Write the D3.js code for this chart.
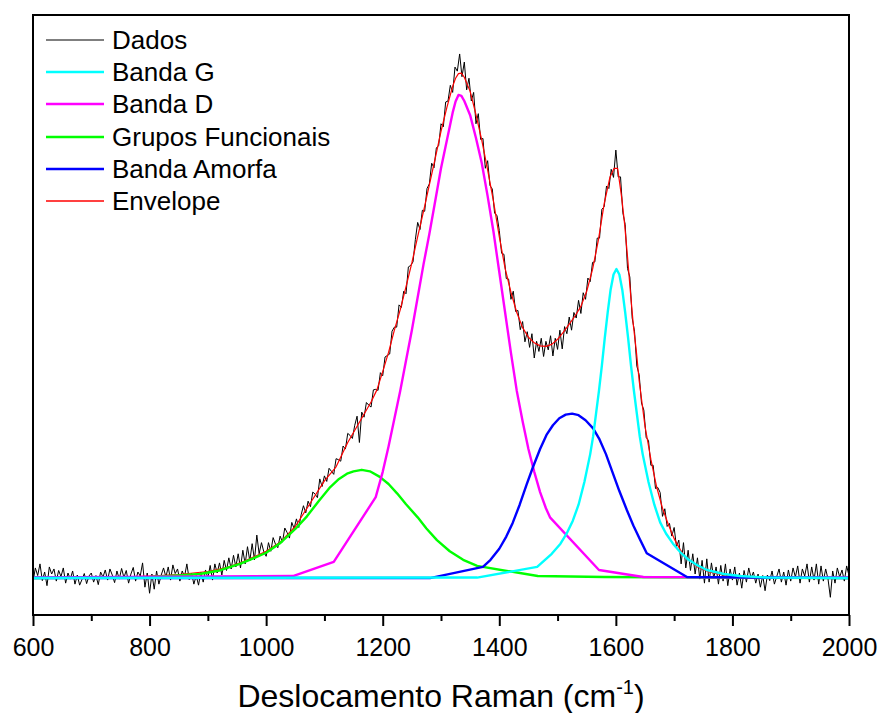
<!DOCTYPE html>
<html><head><meta charset="utf-8">
<script src="https://cdn.jsdelivr.net/npm/d3@7"></script>
<style>body{margin:0;background:#fff} svg{display:block} text{font-family:"Liberation Sans",Arial,sans-serif;fill:#000}</style>
</head><body><svg id="c" width="880" height="713"></svg>
<script>
// ---- data (intensity in a.u., envelope max ~1000) ----
const majorTicks = [600, 800, 1000, 1200, 1400, 1600, 1800, 2000];
const minorTicks = [700, 900, 1100, 1300, 1500, 1700, 1900];
const seriesNames = ["Dados", "Banda G", "Banda D", "Grupos Funcionais", "Banda Amorfa", "Envelope"];

const dadosStart = 600, dadosStep = 4;
const dados = [
 -8,20,5,28,-5,12,-15,22,8,18,-6,15,3,20,-10,10,-2,14,-12,6,-14,-3,9,-11,4,
 10,-8,5,-13,12,2,16,-4,18,6,-9,14,-2,19,1,15,-10,8,21,-6,12,4,30,-18,10,
 -30,8,-22,14,-12,6,20,2,22,-4,26,9,18,-6,14,3,28,-3,10,-12,5,-14,12,-8,16,
 0,25,-4,28,10,30,6,35,15,40,18,45,22,48,20,55,28,62,34,68,36,85,48,70,52,
 43,70,53,80,67,60,83,71,99,90,79,110,98,117,100,125,143,129,152,141,170,166,159,196,181,
 202,191,217,211,205,236,234,231,261,255,286,282,276,302,320,268,328,318,347,342,338,372,373,371,406,
 400,437,440,443,488,496,496,540,535,567,562,615,618,625,669,703,689,727,725,770,779,820,811,850,855,
 898,892,941,943,974,960,1010,1002,1036,991,1020,965,988,943,960,898,918,867,869,810,825,776,769,721,717,
 687,642,640,592,591,551,567,527,529,491,507,467,487,456,483,435,468,448,474,438,468,451,479,439,474,
 452,490,453,497,483,516,490,525,514,549,523,564,551,593,586,624,625,672,672,729,734,775,770,808,792,
 846,793,793,722,699,612,595,514,488,419,402,346,332,278,272,223,223,177,179,169,122,137,102,108,83,
 100,62,75,28,70,20,55,15,48,8,40,-2,35,-10,38,-8,30,0,22,-12,25,-6,28,-15,18,
 -4,22,-14,10,-20,15,-8,20,0,12,-10,8,-18,5,-25,6,-5,14,-12,3,18,-8,12,-14,16,
 -6,20,2,24,-10,18,4,28,-8,22,-4,28,-12,24,-6,18,-2,-38,14,-10,20,2,16,-6,24,5
];

const bandaG = [[600,0],[1362,1],[1465,22],[1490,48],[1505,68],[1516,89],[1526,113],[1536,145],[1546,190],[1556,245],[1561,280],[1566,325],[1571,370],[1576,420],[1581,475],[1586,525],[1591,570],[1596,600],[1601,611],[1606,600],[1611,570],[1616,525],[1621,475],[1626,420],[1631,370],[1636,325],[1641,280],[1646,245],[1656,190],[1666,145],[1676,110],[1686,88],[1698,68],[1710,52],[1725,36],[1740,25],[1756,16],[1785,8],[1813,4],[1860,1],[2000,0]];

const bandaD = [[600,1],[1046,4],[1116,32],[1188,160],[1200,210],[1210,260],[1220,315],[1230,370],[1240,430],[1250,490],[1260,555],[1270,620],[1280,680],[1290,745],[1300,810],[1310,865],[1320,920],[1325,942],[1330,955],[1335,953],[1340,943],[1350,915],[1360,870],[1370,820],[1380,755],[1390,685],[1400,605],[1410,525],[1420,445],[1430,370],[1440,310],[1450,255],[1460,210],[1470,170],[1480,138],[1487,120],[1571,16],[1647,2],[2000,1]];

const gruposFuncionais = [[600,0],[750,1],[800,2],[850,5],[886,8],[920,15],[955,28],[980,40],[1000,50],[1025,70],[1050,97],[1070,122],[1090,152],[1110,180],[1125,196],[1140,207],[1150,211],[1164,214],[1178,211],[1195,200],[1210,186],[1225,167],[1240,146],[1260,120],[1275,98],[1293,75],[1315,53],[1338,36],[1362,24],[1466,4],[1580,2],[2000,0]];

const bandaAmorfa = [[600,0],[1281,0],[1372,22],[1385,36],[1400,58],[1412,82],[1423,109],[1435,145],[1447,185],[1458,220],[1470,255],[1481,283],[1492,302],[1503,316],[1514,323],[1525,325],[1536,322],[1548,312],[1561,296],[1572,274],[1583,245],[1594,210],[1606,172],[1619,134],[1630,104],[1641,77],[1653,49],[1722,2],[2000,0]];

const envelope = [[600,1],[700,1],[750,2],[800,4],[850,7],[900,13],[930,20],[960,32],[1000,53],[1025,72],[1050,102],[1075,147],[1100,192],[1120,220],[1140,268],[1160,308],[1180,348],[1190,372],[1200,408],[1210,446],[1220,490],[1230,530],[1240,576],[1250,623],[1260,675],[1270,725],[1280,777],[1290,829],[1300,883],[1310,930],[1320,972],[1325,988],[1330,997],[1335,998],[1340,990],[1350,962],[1360,916],[1370,865],[1380,807],[1390,745],[1400,675],[1410,612],[1420,565],[1430,525],[1440,495],[1450,476],[1460,465],[1470,459],[1480,458],[1490,462],[1500,472],[1510,486],[1520,502],[1530,518],[1540,537],[1550,567],[1560,610],[1570,668],[1580,740],[1590,793],[1597,810],[1603,810],[1610,752],[1615,700],[1620,635],[1625,565],[1630,500],[1635,450],[1640,390],[1645,345],[1650,300],[1655,268],[1660,235],[1670,180],[1680,138],[1690,106],[1700,78],[1710,57],[1720,41],[1740,22],[1760,12],[1780,7],[1800,4],[1830,3],[1870,2],[1920,1],[2000,1]];

// ---- drawing ----
const svg = d3.select("#c");
const L = 33, R = 849, T = 15, B = 615;
const x = d3.scaleLinear().domain([600, 2000]).range([L, R]);
const y = d3.scaleLinear().domain([-73, 1113]).range([B, T]);

svg.append("defs").append("clipPath").attr("id", "clip")
  .append("rect").attr("x", L).attr("y", T).attr("width", R - L).attr("height", B - T);

const plot = svg.append("g").attr("clip-path", "url(#clip)");
const line = d3.line().x(d => x(d[0])).y(d => y(d[1]));

const dadosPts = dados.map((v, i) => [dadosStart + i * dadosStep, v]);

const series = [
  {name: seriesNames[0], data: dadosPts, color: "#000000", w: 1},
  {name: seriesNames[5], data: envelope, color: "#FF0000", w: 1.2},
  {name: seriesNames[3], data: gruposFuncionais, color: "#00FF00", w: 2.4},
  {name: seriesNames[2], data: bandaD, color: "#FF00FF", w: 2.4},
  {name: seriesNames[4], data: bandaAmorfa, color: "#0000FF", w: 2.4},
  {name: seriesNames[1], data: bandaG, color: "#00FFFF", w: 2.4}
];
series.forEach(s => {
  plot.append("path").datum(s.data).attr("d", line)
    .attr("fill", "none").attr("stroke", s.color).attr("stroke-width", s.w)
    .attr("stroke-linejoin", "round");
});

// axis
const ax = svg.append("g").attr("transform", `translate(0,${B})`)
  .call(d3.axisBottom(x).tickValues(majorTicks).tickSize(11).tickPadding(12).tickFormat(d3.format("d")));
ax.select(".domain").remove();
ax.selectAll(".tick line").attr("stroke", "#000").attr("stroke-width", 2);
ax.selectAll(".tick text").attr("font-size", "25px").attr("font-family", '"Liberation Sans",Arial,sans-serif').attr("fill", "#000");

const axm = svg.append("g").attr("transform", `translate(0,${B})`)
  .call(d3.axisBottom(x).tickValues(minorTicks).tickSize(6).tickFormat(""));
axm.select(".domain").remove();
axm.selectAll(".tick line").attr("stroke", "#000").attr("stroke-width", 2);

// frame
svg.append("rect").attr("x", L).attr("y", T).attr("width", R - L).attr("height", B - T)
  .attr("fill", "none").attr("stroke", "#000").attr("stroke-width", 2);

// x title
const t = svg.append("text").attr("x", (L + R) / 2).attr("y", 707).attr("text-anchor", "middle")
  .attr("font-size", "32px");
t.append("tspan").text("Deslocamento Raman (cm");
t.append("tspan").attr("font-size", "20px").attr("dy", -13).text("-1");
t.append("tspan").attr("dy", 13).text(")");

// legend
const legendOrder = [
  {name: seriesNames[0], color: "#000000", w: 1.2},
  {name: seriesNames[1], color: "#00FFFF", w: 2.4},
  {name: seriesNames[2], color: "#FF00FF", w: 2.4},
  {name: seriesNames[3], color: "#00FF00", w: 2.4},
  {name: seriesNames[4], color: "#0000FF", w: 2.4},
  {name: seriesNames[5], color: "#FF0000", w: 1.4}
];
const lg = svg.append("g");
legendOrder.forEach((s, i) => {
  const yy = Math.round(40 + i * 32.2);
  lg.append("line").attr("x1", 46).attr("x2", 104).attr("y1", yy).attr("y2", yy)
    .attr("stroke", s.color).attr("stroke-width", s.w);
  lg.append("text").attr("x", 112).attr("y", yy).attr("dy", "0.36em")
    .attr("font-size", "26px").text(s.name);
});
</script></body></html>
